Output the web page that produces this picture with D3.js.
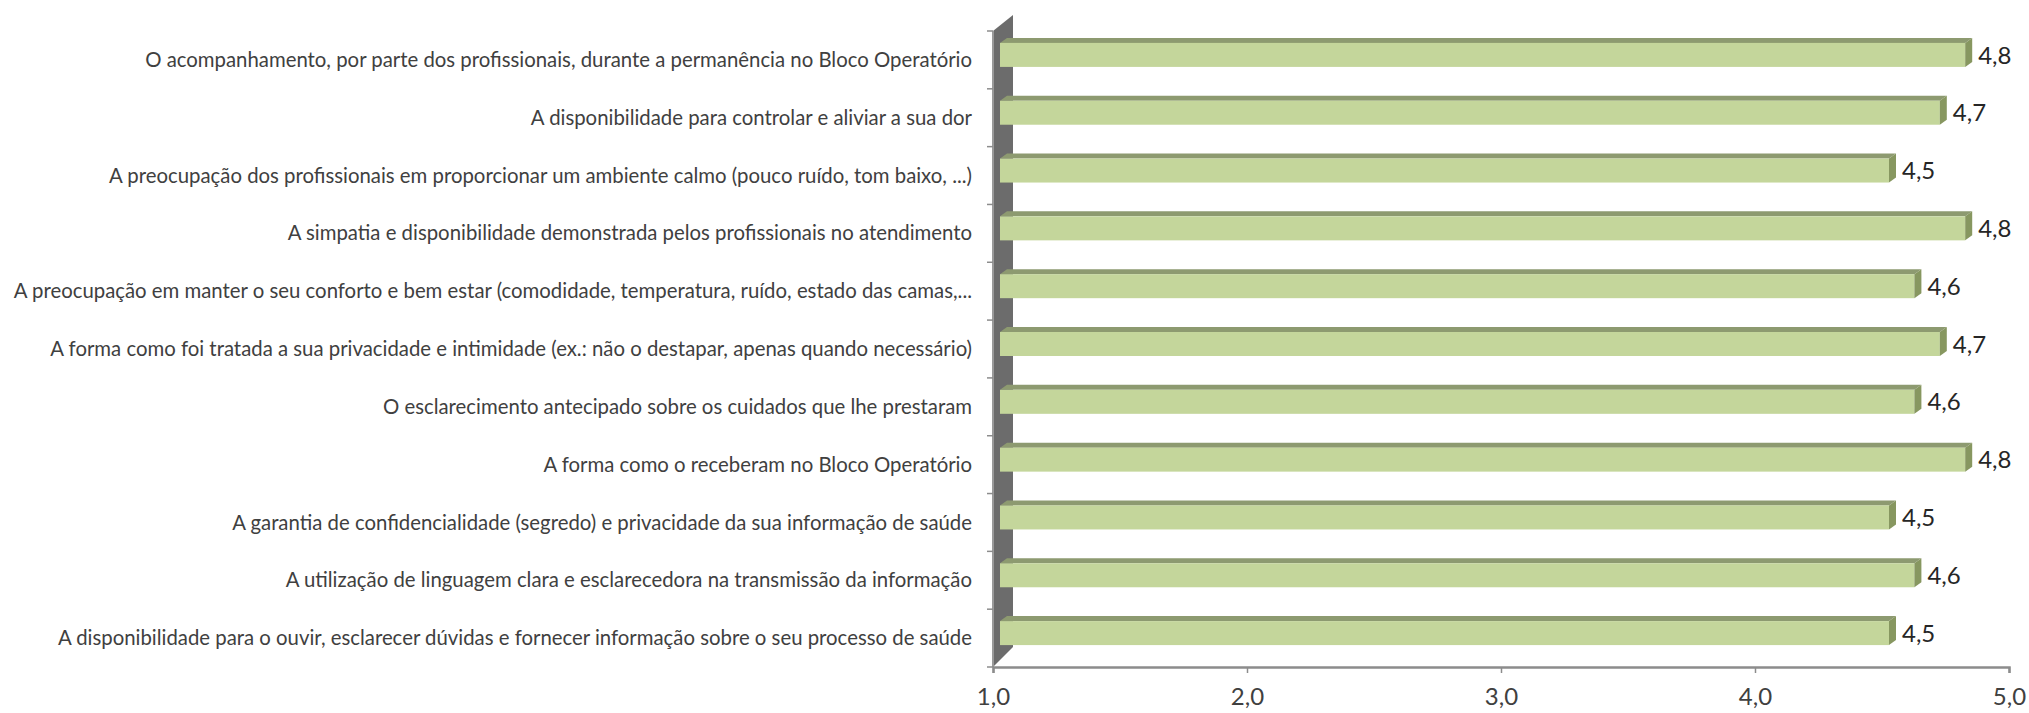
<!DOCTYPE html>
<html><head><meta charset="utf-8">
<script src="https://cdn.jsdelivr.net/npm/d3@7"></script>
<style>html,body{margin:0;padding:0;background:#fff;}svg{display:block;}</style>
</head><body>
<svg id="chart" width="2029" height="713"></svg>
<script>
const categories = [
  "O acompanhamento, por parte dos profissionais, durante a permanência no Bloco Operatório",
  "A disponibilidade para controlar e aliviar a sua dor",
  "A preocupação dos profissionais em proporcionar um ambiente calmo (pouco ruído, tom baixo, ...)",
  "A simpatia e disponibilidade demonstrada pelos profissionais no atendimento",
  "A preocupação em manter o seu conforto e bem estar (comodidade, temperatura, ruído, estado das camas,...",
  "A forma como foi tratada a sua privacidade e intimidade (ex.: não o destapar, apenas quando necessário)",
  "O esclarecimento antecipado sobre os cuidados que lhe prestaram",
  "A forma como o receberam no Bloco Operatório",
  "A garantia de confidencialidade (segredo) e privacidade da sua informação de saúde",
  "A utilização de linguagem clara e esclarecedora na transmissão da informação",
  "A disponibilidade para o ouvir, esclarecer dúvidas e fornecer informação sobre o seu processo de saúde"
];
const values = [4.8, 4.7, 4.5, 4.8, 4.6, 4.7, 4.6, 4.8, 4.5, 4.6, 4.5];
const valueLabels = ["4,8","4,7","4,5","4,8","4,6","4,7","4,6","4,8","4,5","4,6","4,5"];
const tickValues = [1, 2, 3, 4, 5];
const tickLabels = ["1,0","2,0","3,0","4,0","5,0"];

const svg = d3.select("#chart");
const x0 = 993, x1 = 2009, yTop = 31, yBot = 667;
const x = d3.scaleLinear().domain([1,5]).range([x0, x1]);
const y = d3.scaleBand().domain(categories).range([yTop, yBot]).paddingInner(0.585).paddingOuter(0.2925);

const bdx = 7, bdy = -5;     // bar depth (front offset and bar thickness)
const wdx = 20, wdy = -16;   // wall depth

// side wall
svg.append("polygon")
  .attr("points", [[x0,yTop],[x0+wdx,yTop+wdy],[x0+wdx,yBot+wdy-4],[x0,yBot]].map(p=>p.join(",")).join(" "))
  .attr("fill","#6c6c6c");
svg.append("line").attr("x1",x0).attr("x2",x0).attr("y1",yTop).attr("y2",yBot)
  .attr("stroke","#9a9a9a").attr("stroke-width",2);

// category ticks
const step = y.step();
d3.range(categories.length+1).forEach(i=>{
  svg.append("line").attr("x1",x0-6).attr("x2",x0).attr("y1",yTop+i*step).attr("y2",yTop+i*step)
    .attr("stroke","#8c8c8c").attr("stroke-width",1.5);
});

// value axis
const xAxis = d3.axisBottom(x).tickValues(tickValues).tickFormat((d,i)=>tickLabels[i]).tickSize(6).tickPadding(15);
const gx = svg.append("g").attr("transform",`translate(0,${yBot})`).call(xAxis);
gx.select(".domain").attr("stroke","#8c8c8c").attr("stroke-width",2.5);
gx.selectAll(".tick line").attr("stroke","#8c8c8c").attr("stroke-width",1.5);
gx.selectAll(".tick text").attr("font-family","Lato, 'Open Sans', sans-serif").attr("font-size",24).attr("fill","#404040");

// bars
const bars = svg.append("g");
categories.forEach((c,i)=>{
  const h = y.bandwidth();
  const fy = y(c) + bdy;          // front face top
  const fx0 = x(1) + bdx, fx1 = x(values[i]) + bdx;
  // top face
  bars.append("polygon")
    .attr("points",[[fx0,fy],[fx0+bdx,fy+bdy],[fx1+bdx,fy+bdy],[fx1,fy]].map(p=>p.join(",")).join(" "))
    .attr("fill","#8d9a70");
  // front face
  bars.append("rect").attr("x",fx0).attr("y",fy).attr("width",fx1-fx0).attr("height",h)
    .attr("fill","#c4d69b");
  // side face
  bars.append("polygon")
    .attr("points",[[fx1,fy],[fx1+bdx,fy+bdy],[fx1+bdx,fy+bdy+h],[fx1,fy+h]].map(p=>p.join(",")).join(" "))
    .attr("fill","#879760");
  // value label
  svg.append("text").attr("x",fx1+bdx+6).attr("y",fy+h/2).attr("dy","0.36em")
    .attr("font-family","Lato, 'Open Sans', sans-serif").attr("font-size",24).attr("fill","#262626")
    .text(valueLabels[i]);
});

// category labels
const labels = svg.append("g").selectAll("text").data(categories).join("text")
  .attr("x",972).attr("y",d=>y(d)+bdy+y.bandwidth()/2+5).attr("dy","0.35em")
  .attr("text-anchor","end")
  .attr("font-family","Lato, 'Open Sans', sans-serif").attr("font-size",18).attr("fill","#404040")
  .text(d=>d);
// fit font so the longest label spans the measured width
let maxW = 0; labels.each(function(){ maxW = Math.max(maxW, this.getComputedTextLength()); });
const fs = 18 * 959 / maxW;
labels.attr("font-size", fs);
</script>
</body></html>
